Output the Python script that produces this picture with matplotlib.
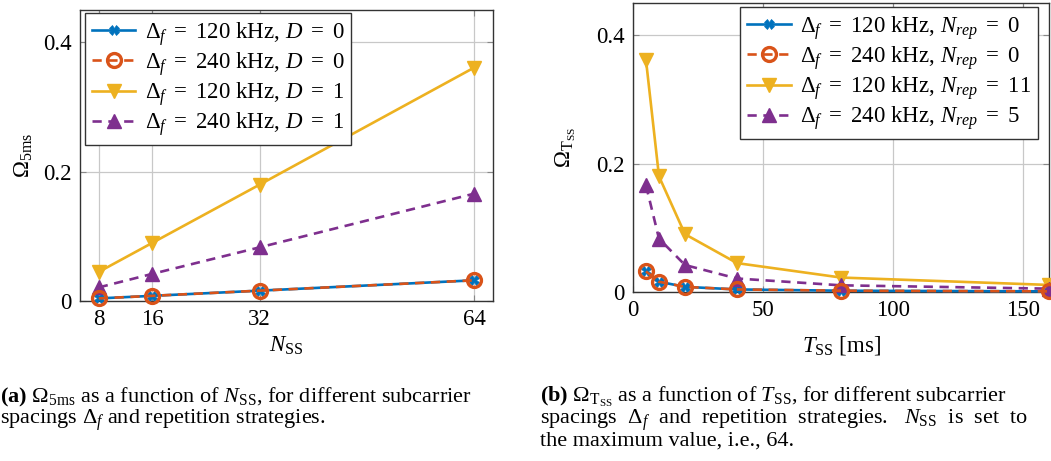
import numpy as np
import matplotlib
matplotlib.use("Agg")
import matplotlib.pyplot as plt

plt.rcParams['font.family'] = ['Liberation Serif', 'DejaVu Serif']
plt.rcParams['mathtext.fontset'] = 'custom'
plt.rcParams['mathtext.rm'] = 'Liberation Serif'
plt.rcParams['mathtext.it'] = 'Liberation Serif:italic'
plt.rcParams['mathtext.bf'] = 'Liberation Serif:bold'

# (a) Omega_5ms vs N_SS
n_ss = [8, 16, 32, 64]
a_120_d0 = [0.004, 0.008, 0.016, 0.032]
a_240_d0 = [0.004, 0.008, 0.016, 0.032]
a_120_d1 = [0.045, 0.090, 0.180, 0.361]
a_240_d1 = [0.021, 0.042, 0.083, 0.166]

# (b) Omega_TSS vs T_SS [ms]
t_ss = [5, 10, 20, 40, 80, 160]
b_120_r0 = [0.032, 0.016, 0.008, 0.004, 0.002, 0.001]
b_240_r0 = [0.032, 0.016, 0.008, 0.004, 0.002, 0.001]
b_120_r11 = [0.361, 0.180, 0.090, 0.045, 0.0225, 0.011]
b_240_r5 = [0.166, 0.083, 0.042, 0.021, 0.0104, 0.0052]

blue = '#0072BD'
orange = '#D95319'
yellow = '#EDB120'
purple = '#7E2F8E'

FS = 16.5

W, H = 1051, 461
fig = plt.figure(figsize=(W / 100, H / 100), dpi=100)

def px_axes(x0, y0, x1, y1):
    return fig.add_axes([x0 / W, 1 - y1 / H, (x1 - x0) / W, (y1 - y0) / H])

ax1 = px_axes(80, 10, 493, 301)
ax2 = px_axes(633, 3, 1049, 292)

def style(ax):
    ax.grid(True, color='#c8c8c8', lw=0.9)
    ax.set_axisbelow(True)
    ax.tick_params(direction='in', length=4, color='#888888', labelsize=FS,
                   top=True, right=True, pad=6)
    for s in ax.spines.values():
        s.set_color('#333333')
        s.set_linewidth(1.0)

def series(ax, x, ys, labels):
    lw = 1.9
    ax.plot(x, ys[0], color=blue, lw=lw, marker='X', ms=6.5, mew=0.5,
            label=labels[0], clip_on=False, zorder=3)
    ax.plot(x, ys[1], color=orange, lw=lw, ls=(0, (3.5, 2.5)), marker='o', ms=10,
            mfc='none', mew=2.4, label=labels[1], clip_on=False, zorder=4)
    ax.plot(x, ys[2], color=yellow, lw=lw, marker='v', ms=10,
            label=labels[2], clip_on=False, zorder=3)
    ax.plot(x, ys[3], color=purple, lw=lw, ls=(0, (3.5, 2.5)), marker='^', ms=10,
            label=labels[3], clip_on=False, zorder=3)

def legend(ax, loc, anchor):
    leg = ax.legend(loc=loc, bbox_to_anchor=anchor, fontsize=FS, frameon=True,
                    fancybox=False, edgecolor='#333333', framealpha=1,
                    handlelength=1.9, handletextpad=0.4, borderaxespad=0.0,
                    labelspacing=0.1, borderpad=0.3)
    leg.get_frame().set_linewidth(1.0)

EQ = r'\ =\ '

series(ax1, n_ss, [a_120_d0, a_240_d0, a_120_d1, a_240_d1],
       [rf'$\Delta_f{EQ}120$ kHz, $D{EQ}0$', rf'$\Delta_f{EQ}240$ kHz, $D{EQ}0$',
        rf'$\Delta_f{EQ}120$ kHz, $D{EQ}1$', rf'$\Delta_f{EQ}240$ kHz, $D{EQ}1$'])
ax1.set_xlim(5.2, 66.8)
ax1.set_ylim(0, 0.45)
ax1.set_xticks(n_ss)
ax1.set_yticks([0, 0.2, 0.4])
ax1.set_yticklabels(['0', '0.2', '0.4'])
ax1.set_xlabel(r'$N_{\mathrm{SS}}$', fontsize=FS, labelpad=3)
ax1.set_ylabel(r'$\Omega_{5\mathrm{ms}}$', fontsize=FS, labelpad=6)
style(ax1)
legend(ax1, 'upper left', (5 / 413, 1 - 3 / 291))

series(ax2, t_ss, [b_120_r0, b_240_r0, b_120_r11, b_240_r5],
       [rf'$\Delta_f{EQ}120$ kHz, $N_{{rep}}{EQ}0$', rf'$\Delta_f{EQ}240$ kHz, $N_{{rep}}{EQ}0$',
        rf'$\Delta_f{EQ}120$ kHz, $N_{{rep}}{EQ}11$', rf'$\Delta_f{EQ}240$ kHz, $N_{{rep}}{EQ}5$'])
ax2.set_xlim(0, 160)
ax2.set_ylim(0, 0.45)
ax2.set_xticks([0, 50, 100, 150])
ax2.set_yticks([0, 0.2, 0.4])
ax2.set_yticklabels(['0', '0.2', '0.4'])
ax2.set_xlabel(r'$T_{\mathrm{SS}}$ [ms]', fontsize=FS, labelpad=9)
ax2.set_ylabel(r'$\Omega_{\mathrm{T}_{\mathrm{SS}}}$', fontsize=FS, labelpad=13)
style(ax2)
legend(ax2, 'upper right', (1 - 11 / 416, 1 - 4 / 289))

# sub-captions
cap = dict(fontsize=16, ha='left', va='baseline')
fig.text(0 / W, 1 - 402 / H,
         r'$\mathbf{(a)}$ $\Omega_{5\mathrm{ms}}$ as a function of $N_{\mathrm{SS}}$, for different subcarrier', **cap)
fig.text(0 / W, 1 - 424 / H, r'spacings $\Delta_f$ and repetition strategies.', **cap)
fig.text(540 / W, 1 - 402 / H,
         r'$\mathbf{(b)}$ $\Omega_{\mathrm{T}_{\mathrm{SS}}}$ as a function of $T_{\mathrm{SS}}$, for different subcarrier', **cap)
fig.text(540 / W, 1 - 424 / H,
         r'spacings  $\Delta_f$  and  repetition  strategies.   $N_{\mathrm{SS}}$  is  set  to', **cap)
fig.text(540 / W, 1 - 446 / H, r'the maximum value, i.e., 64.', **cap)

fig.savefig('out.png', dpi=100)
